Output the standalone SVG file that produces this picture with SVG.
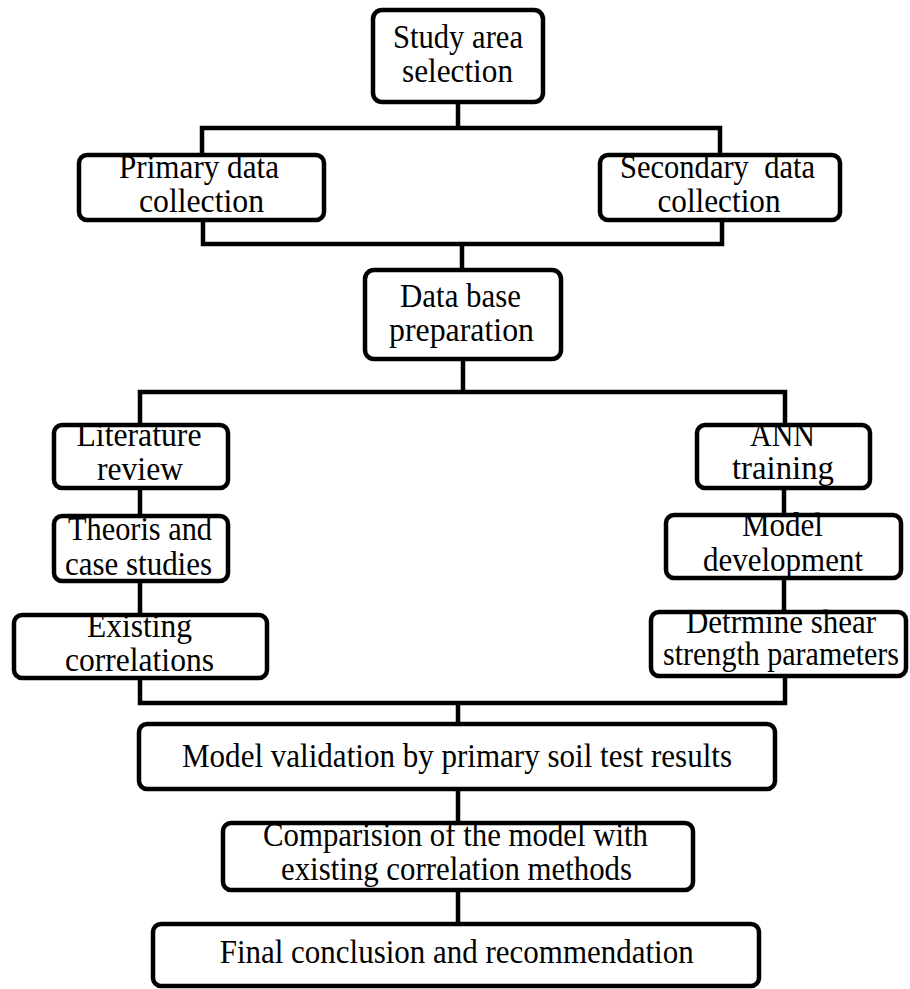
<svg xmlns="http://www.w3.org/2000/svg" width="910" height="989" viewBox="0 0 910 989">
<style>
.box{fill:#fff;stroke:#000;stroke-width:4.5}
.t{font-family:"Liberation Serif","Times New Roman",serif;font-size:33px;fill:#000;text-anchor:middle;white-space:pre}
.c{fill:none;stroke:#000;stroke-width:4.5;stroke-linecap:square}
</style>
<rect width="910" height="989" fill="#fff"/>
<g id="connectors">
<path class="c" d="M458 104V128M202 128H720M202 128V153M720 128V153"/>
<path class="c" d="M203 222V244H722V222M462 244V268"/>
<path class="c" d="M463 361V392M140 392H785M140 392V423M785 392V423"/>
<path class="c" d="M140 490V514M140 583V613M784 490V513M784 580V610"/>
<path class="c" d="M140 680V703H785V678M458 703V722"/>
<path class="c" d="M458 791V821M458 892V922"/>
</g>
<g id="study">
<rect class="box" x="373" y="10" width="170" height="92" rx="9"/>
<text class="t" x="458" y="48" textLength="130" lengthAdjust="spacingAndGlyphs">Study area</text>
<text class="t" x="457.5" y="82" textLength="111" lengthAdjust="spacingAndGlyphs">selection</text>
</g>
<g id="primary">
<rect class="box" x="79" y="155" width="245" height="65" rx="8"/>
<text class="t" x="199" y="178" textLength="160" lengthAdjust="spacingAndGlyphs">Primary data</text>
<text class="t" x="201.5" y="212" textLength="125" lengthAdjust="spacingAndGlyphs">collection</text>
</g>
<g id="secondary">
<rect class="box" x="600" y="155" width="240" height="65" rx="8"/>
<text class="t" x="717.5" y="178" textLength="195" lengthAdjust="spacingAndGlyphs">Secondary  data</text>
<text class="t" x="719" y="212" textLength="123" lengthAdjust="spacingAndGlyphs">collection</text>
</g>
<g id="database">
<rect class="box" x="365" y="270" width="196" height="89" rx="9"/>
<text class="t" x="460.5" y="307" textLength="121" lengthAdjust="spacingAndGlyphs">Data base</text>
<text class="t" x="461.5" y="341" textLength="145" lengthAdjust="spacingAndGlyphs">preparation</text>
</g>
<g id="literature">
<rect class="box" x="54" y="425" width="174" height="63" rx="8"/>
<text class="t" x="139" y="446" textLength="125" lengthAdjust="spacingAndGlyphs">Literature</text>
<text class="t" x="140" y="480" textLength="86" lengthAdjust="spacingAndGlyphs">review</text>
</g>
<g id="ann">
<rect class="box" x="697" y="425" width="173" height="63" rx="8"/>
<text class="t" x="782.5" y="446" textLength="65" lengthAdjust="spacingAndGlyphs">ANN</text>
<text class="t" x="783" y="479" textLength="102" lengthAdjust="spacingAndGlyphs">training</text>
</g>
<g id="theoris">
<rect class="box" x="54" y="516" width="174" height="65" rx="8"/>
<text class="t" x="140" y="540" textLength="144" lengthAdjust="spacingAndGlyphs">Theoris and</text>
<text class="t" x="138.5" y="575" textLength="147" lengthAdjust="spacingAndGlyphs">case studies</text>
</g>
<g id="modeldev">
<rect class="box" x="666" y="515" width="235" height="63" rx="8"/>
<text class="t" x="782.5" y="536" textLength="81" lengthAdjust="spacingAndGlyphs">Model</text>
<text class="t" x="783" y="571" textLength="160" lengthAdjust="spacingAndGlyphs">development</text>
</g>
<g id="existing">
<rect class="box" x="14" y="615" width="253" height="63" rx="8"/>
<text class="t" x="139.5" y="637" textLength="105" lengthAdjust="spacingAndGlyphs">Existing</text>
<text class="t" x="139.5" y="671" textLength="149" lengthAdjust="spacingAndGlyphs">correlations</text>
</g>
<g id="determine">
<rect class="box" x="651" y="612" width="255" height="64" rx="8"/>
<text class="t" x="781" y="633" textLength="190" lengthAdjust="spacingAndGlyphs">Detrmine shear</text>
<text class="t" x="781" y="665" textLength="236" lengthAdjust="spacingAndGlyphs">strength parameters</text>
</g>
<g id="validation">
<rect class="box" x="139" y="724" width="636" height="65" rx="8"/>
<text class="t" x="457" y="767" textLength="550" lengthAdjust="spacingAndGlyphs">Model validation by primary soil test results</text>
</g>
<g id="comparision">
<rect class="box" x="223" y="823" width="470" height="67" rx="8"/>
<text class="t" x="455.5" y="846" textLength="385" lengthAdjust="spacingAndGlyphs">Comparision of the model with</text>
<text class="t" x="456.5" y="880" textLength="351" lengthAdjust="spacingAndGlyphs">existing correlation methods</text>
</g>
<g id="final">
<rect class="box" x="153" y="924" width="606" height="62" rx="8"/>
<text class="t" x="456.7" y="963" textLength="474" lengthAdjust="spacingAndGlyphs">Final conclusion and recommendation</text>
</g>
</svg>
